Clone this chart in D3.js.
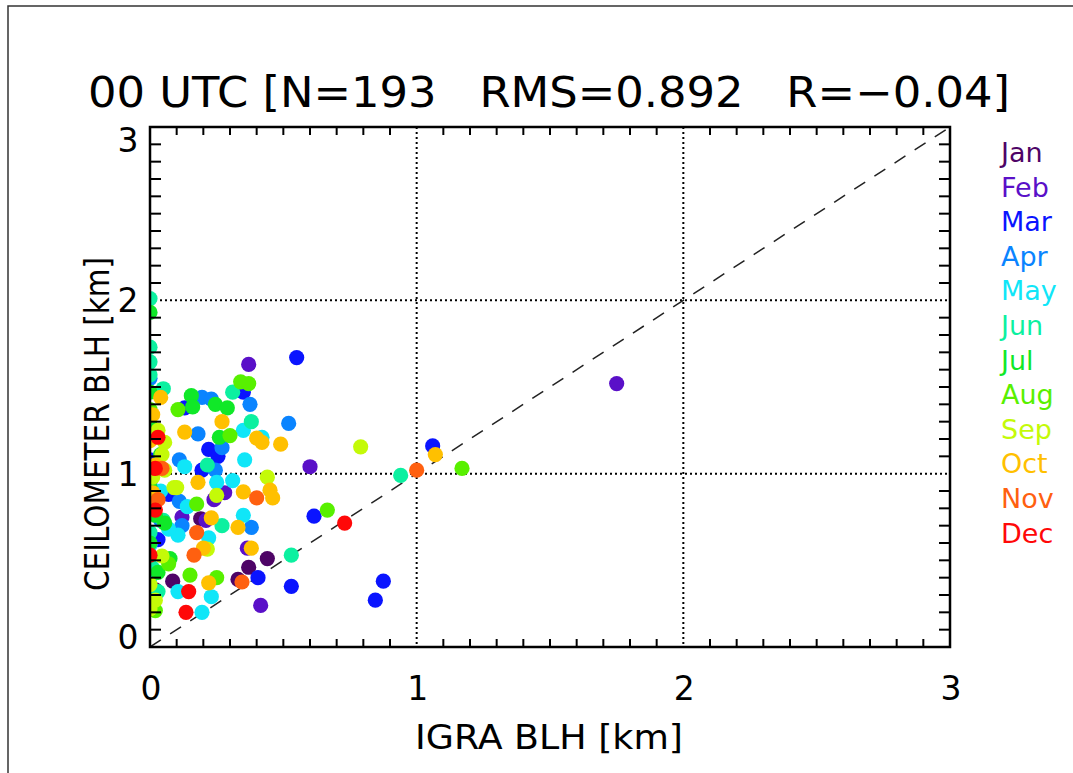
<!DOCTYPE html>
<html><head><meta charset="utf-8">
<script src="https://cdn.jsdelivr.net/npm/d3@7"></script>
<style>html,body{margin:0;padding:0;background:#fff;}svg{display:block;}</style>
</head><body>
<script>
const months = ["Jan","Feb","Mar","Apr","May","Jun","Jul","Aug","Sep","Oct","Nov","Dec"];
const monthColors = ["#4e0466","#5a10c8","#0a14ff","#0a84ff","#10e6f8","#0cf0a0","#10e828","#58f000","#c4fa08","#ffc000","#ff6010","#ff0808"];
const xTicks = [0,1,2,3];
const yTicks = [0,1,2,3];
const titleText = "00 UTC [N=193   RMS=0.892   R=\u22120.04]";
const xLabel = "IGRA BLH [km]";
const yLabel = "CEILOMETER BLH [km]";

// [IGRA BLH, CEILOMETER BLH] per month
const jan = [[0.44,0.51],[0.37,0.46],[0.33,0.39],[0.085,0.38],[0.19,0.74],[0.02,0.33]];
const feb = [[1.75,1.52],[0.60,1.04],[0.37,1.63],[0.415,0.24],[0.365,0.57],[0.24,0.85],[0.28,0.89],[0.12,0.75],[0.21,0.73]];
const mar = [[0.55,1.67],[1.06,1.16],[0.875,0.38],[0.845,0.27],[0.615,0.755],[0.53,0.35],[0.405,0.40],[0.35,1.47],[0.22,1.14],[0.195,1.02],[0.07,0.88],[0.13,1.38],[0.03,0.62],[0.0,1.08],[0.255,1.10]];
const apr = [[0.52,1.29],[0.375,1.40],[0.38,0.69],[0.195,1.44],[0.23,1.43],[0.18,1.23],[0.11,1.08],[0.11,0.84],[0.12,0.70],[0.27,1.15],[0.0,1.55],[0.04,0.73],[0.245,1.02],[0.0,0.95]];
const may = [[0.35,1.25],[0.355,1.08],[0.31,0.96],[0.35,0.76],[0.42,1.21],[0.13,1.04],[0.25,0.95],[0.14,0.81],[0.105,0.645],[0.22,0.63],[0.105,0.32],[0.23,0.29],[0.195,0.20],[0.0,0.59],[0.04,0.90],[0.0,0.40],[0.07,0.68]];
const jun = [[0.94,0.99],[0.53,0.53],[0.38,1.30],[0.31,1.47],[0.27,0.70],[0.215,1.05],[0.05,0.73],[0.03,0.32],[0.0,2.01],[0.0,1.73],[0.0,1.645],[0.05,1.49],[0.01,0.455],[0.0,0.66],[0.0,1.57],[0.0,0.82]];
const jul = [[0.0,1.93],[0.155,1.45],[0.16,1.385],[0.245,1.40],[0.29,1.38],[0.26,1.21],[0.075,0.51],[0.03,0.43],[0.0,0.92],[0.0,1.47],[0.0,0.60],[0.055,0.715],[0.04,1.11],[0.0,1.28],[0.02,0.76]];
const aug = [[1.17,1.03],[0.665,0.79],[0.34,1.53],[0.37,1.52],[0.30,1.22],[0.105,1.37],[0.175,0.825],[0.15,0.415],[0.25,0.40],[0.0,0.85],[0.0,1.37],[0.02,0.21],[0.07,0.48]];
const sep = [[0.79,1.155],[0.44,0.98],[0.10,0.92],[0.25,0.875],[0.215,0.565],[0.055,1.18],[0.02,0.27],[0.045,0.525],[0.045,1.11],[0.055,1.02],[0.0,0.22],[0.03,1.25],[0.0,0.36],[0.09,0.92],[0.01,0.98]];
const oct = [[1.07,1.11],[0.04,1.44],[0.01,1.34],[0.27,1.30],[0.13,1.24],[0.40,1.205],[0.42,1.18],[0.49,1.17],[0.18,0.95],[0.35,0.895],[0.45,0.905],[0.46,0.86],[0.23,0.745],[0.33,0.69],[0.20,0.57],[0.38,0.57],[0.22,0.37],[0.0,1.19],[0.01,0.89],[0.02,1.05]];
const nov = [[1.0,1.02],[0.40,0.86],[0.175,0.66],[0.165,0.53],[0.345,0.375],[0.045,1.03],[0.03,0.85]];
const dec = [[0.73,0.715],[0.03,1.21],[0.02,1.03],[0.02,0.79],[0.0,0.53],[0.145,0.32],[0.135,0.20]];
const monthData = [jan,feb,mar,apr,may,jun,jul,aug,sep,oct,nov,dec];

const W = 1073, H = 773;
const svg = d3.select("body").append("svg").attr("width", W).attr("height", H);
const font = "DejaVu Sans, sans-serif";

// outer border
svg.append("rect").attr("x", 8).attr("y", 6).attr("width", W).attr("height", H)
  .attr("fill", "none").attr("stroke", "#333").attr("stroke-width", 1.5);

const L = 150, R = 950, T = 127, B = 647;
const x = d3.scaleLinear().domain([0, 3]).range([L, R]);
const y = d3.scaleLinear().domain([0, 3]).range([B, T]);

svg.append("clipPath").attr("id", "clip").append("rect")
  .attr("x", L).attr("y", T).attr("width", R - L).attr("height", B - T);

// title
svg.append("text").attr("x", 88).attr("y", 107)
  .attr("textLength", 922).attr("lengthAdjust", "spacingAndGlyphs")
  .style("white-space", "pre").attr("font-family", font).attr("font-size", 43)
  .attr("fill", "#000").text(titleText);

// grid lines (dotted) at interior integer ticks
const gridG = svg.append("g");
xTicks.filter(d => d > 0 && d < 3).forEach(d => {
  gridG.append("line").attr("x1", x(d)).attr("x2", x(d)).attr("y1", T).attr("y2", B)
    .attr("stroke", "#000").attr("stroke-width", 2).attr("stroke-dasharray", "2,3");
});
yTicks.filter(d => d > 0 && d < 3).forEach(d => {
  gridG.append("line").attr("x1", L).attr("x2", R).attr("y1", y(d)).attr("y2", y(d))
    .attr("stroke", "#000").attr("stroke-width", 2).attr("stroke-dasharray", "2,3");
});

// 1:1 dashed line
svg.append("line").attr("clip-path", "url(#clip)")
  .attr("x1", x(0)).attr("y1", y(0)).attr("x2", x(3)).attr("y2", y(3))
  .attr("stroke", "#222").attr("stroke-width", 1.5).attr("stroke-dasharray", "13,11");

// points
const ptsG = svg.append("g").attr("clip-path", "url(#clip)");
monthData.forEach((arr, mi) => {
  ptsG.selectAll(null).data(arr).enter().append("circle")
    .attr("cx", d => x(d[0])).attr("cy", d => y(d[1])).attr("r", 7.6)
    .attr("fill", monthColors[mi]);
});

// minor ticks on all four sides
const minor = d3.range(1, 30).filter(i => i % 10 !== 0).map(i => i / 10);
const tickG = svg.append("g").attr("stroke", "#000").attr("stroke-width", 2);
minor.forEach(v => {
  tickG.append("line").attr("x1", x(v)).attr("x2", x(v)).attr("y1", B).attr("y2", B - 8);
  tickG.append("line").attr("x1", x(v)).attr("x2", x(v)).attr("y1", T).attr("y2", T + 8);
  tickG.append("line").attr("y1", y(v)).attr("y2", y(v)).attr("x1", L).attr("x2", L + 11);
  tickG.append("line").attr("y1", y(v)).attr("y2", y(v)).attr("x1", R).attr("x2", R - 11);
});

// frame
svg.append("rect").attr("x", L).attr("y", T).attr("width", R - L).attr("height", B - T)
  .attr("fill", "none").attr("stroke", "#000").attr("stroke-width", 2.5);

// tick labels
svg.append("g").selectAll("text").data(xTicks).enter().append("text")
  .attr("x", d => x(d) + 1).attr("y", 700).attr("text-anchor", "middle")
  .attr("font-family", font).attr("font-size", 33).text(d => d);
const yOff = {0: -10, 1: 0, 2: 0, 3: 13};
svg.append("g").selectAll("text").data(yTicks).enter().append("text")
  .attr("x", 128).attr("y", d => y(d) + 12 + yOff[d]).attr("text-anchor", "middle")
  .attr("font-family", font).attr("font-size", 33).text(d => d);

// axis titles
svg.append("text").attr("x", 549).attr("y", 749).attr("text-anchor", "middle")
  .attr("textLength", 268).attr("lengthAdjust", "spacingAndGlyphs")
  .attr("font-family", font).attr("font-size", 33).text(xLabel);
svg.append("text").attr("transform", "translate(109,424) rotate(-90)").attr("text-anchor", "middle")
  .attr("textLength", 334).attr("lengthAdjust", "spacingAndGlyphs")
  .attr("font-family", font).attr("font-size", 33).text(yLabel);

// legend
svg.append("g").selectAll("text").data(months).enter().append("text")
  .attr("x", 1001).attr("y", (d, i) => 162 + i * 34.6)
  .attr("font-family", font).attr("font-size", 27)
  .attr("fill", (d, i) => monthColors[i]).text(d => d);
</script>
</body></html>
